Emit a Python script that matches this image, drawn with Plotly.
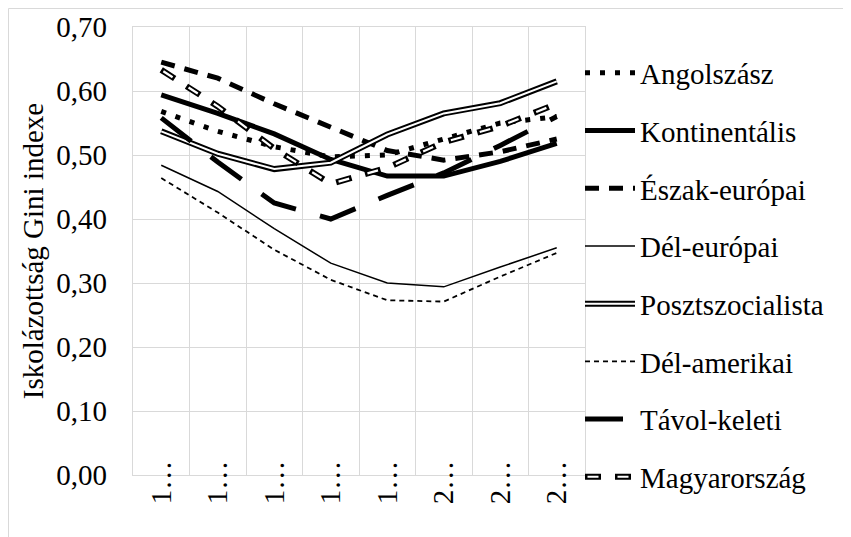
import plotly.graph_objects as go

# ---- data ----
x_pos = [0, 1, 2, 3, 4, 5, 6, 7]
x_labels = ["1…", "1…", "1…", "1…", "1…", "2…", "2…", "2…"]
y_ticks = [0.0, 0.1, 0.2, 0.3, 0.4, 0.5, 0.6, 0.7]

series_names = ["Angolszász", "Kontinentális", "Észak-európai", "Dél-európai",
                "Posztszocialista", "Dél-amerikai", "Távol-keleti", "Magyarország"]
angolszasz = [0.568, 0.537, 0.513, 0.497, 0.500, 0.525, 0.550, 0.560]
kontinentalis = [0.594, 0.565, 0.533, 0.493, 0.467, 0.467, 0.490, 0.518]
eszak_europai = [0.645, 0.620, 0.580, 0.543, 0.507, 0.492, 0.505, 0.525]
del_europai = [0.484, 0.443, 0.385, 0.331, 0.300, 0.294, 0.325, 0.355]
posztszocialista = [0.537, 0.502, 0.478, 0.488, 0.532, 0.565, 0.581, 0.615]
del_amerikai = [0.464, 0.410, 0.352, 0.305, 0.273, 0.271, 0.310, 0.347]
tavol_keleti = [0.558, 0.489, 0.425, 0.400, 0.437, 0.472, 0.515, 0.560]
magyarorszag = [0.633, 0.576, 0.510, 0.455, 0.480, 0.520, 0.545, 0.580]

values = [angolszasz, kontinentalis, eszak_europai, del_europai,
          posztszocialista, del_amerikai, tavol_keleti, magyarorszag]

# ---- styles ----
FONT = "Liberation Serif"
FS = 29
GRID = "#d9d9d9"
outer = [
    dict(color="black", width=5, dash="5px,10px"),
    dict(color="black", width=5, dash="solid"),
    dict(color="black", width=5, dash="14px,10px"),
    dict(color="black", width=1.5, dash="solid"),
    dict(color="black", width=6, dash="solid"),
    dict(color="black", width=1.8, dash="5px,4px"),
    dict(color="black", width=5, dash="38px,25px"),
    dict(color="black", width=6, dash="16px,14px"),
]
inner = [None, None, None, None,
         dict(color="white", width=2, dash="solid"),
         None, None,
         dict(color="white", width=2.2, dash="0px,2.5px,11px,16.5px")]

fig = go.Figure()
for i, (name, vals) in enumerate(zip(series_names, values)):
    fig.add_trace(go.Scatter(
        x=x_pos, y=vals, name=name, mode="lines", line=outer[i],
        legend="legend", legendgroup="a%d" % i))
    ln = inner[i] if inner[i] is not None else dict(color="rgba(0,0,0,0)", width=1)
    fig.add_trace(go.Scatter(
        x=x_pos, y=vals, name=name, mode="lines", line=ln,
        legend="legend2", legendgroup="b%d" % i, hoverinfo="skip"))

# page layout (the page body has an 8px margin)
OFF = 8
W, H = 851 - OFF, 537 - OFF
L, R, T, B = 133 - OFF, 585 - OFF, 27 - OFF, 475 - OFF
pw, ph = R - L, B - T

def px_x(p):  # page x -> paper x
    return (p - OFF - L) / pw

def px_y(p):  # page y -> paper y
    return (B - (p - OFF)) / ph

leg_common = dict(
    x=px_x(580), y=px_y(47.5), xanchor="left", yanchor="top",
    bgcolor="rgba(0,0,0,0)", borderwidth=0, itemwidth=50,
    tracegroupgap=17, traceorder="grouped", itemclick=False, itemdoubleclick=False,
)

fig.update_layout(
    width=W, height=H,
    margin=dict(l=L, r=W - R, t=T, b=H - B, autoexpand=False),
    paper_bgcolor="white", plot_bgcolor="white",
    font=dict(family=FONT, size=FS, color="black"),
    separators=", ",
    showlegend=True,
    legend=dict(**leg_common, font=dict(family=FONT, size=FS, color="black")),
    legend2=dict(**leg_common, font=dict(family=FONT, size=FS, color="rgba(0,0,0,0)")),
    shapes=[dict(type="rect", xref="paper", yref="paper",
                 x0=px_x(8.5), x1=px_x(847), y0=px_y(560), y1=px_y(8.5),
                 line=dict(color=GRID, width=1), layer="below")],
)
try:
    fig.update_layout(legend_maxheight=900, legend2_maxheight=900)
except Exception:
    pass

fig.update_xaxes(
    range=[-0.5, 7.5], tickmode="array", tickvals=x_pos, ticktext=x_labels,
    tickangle=-90, showgrid=False, zeroline=False,
    showline=True, linecolor=GRID, linewidth=1.3, mirror=True,
    ticks="", tickfont=dict(family=FONT, size=FS, color="black"),
    minor=dict(tickmode="array", tickvals=[k - 0.5 for k in range(9)],
               showgrid=True, gridcolor=GRID, gridwidth=1.3, ticks=""),
    automargin=False,
)
fig.update_yaxes(
    range=[0, 0.7], tickmode="array", tickvals=y_ticks, tickformat=".2f",
    showgrid=True, gridcolor=GRID, gridwidth=1.3, zeroline=False,
    showline=True, linecolor=GRID, linewidth=1.3, mirror=True,
    ticks="", tickfont=dict(family=FONT, size=FS, color="black"),
    title=dict(text="Iskolázottság Gini indexe", font=dict(family=FONT, size=FS, color="black"),
               standoff=4),
    automargin=False,
)
try:
    fig.update_xaxes(ticklabelstandoff=-27)
except Exception:
    fig.update_xaxes(ticklabelstandoff=0)
try:
    fig.update_yaxes(ticklabelstandoff=19)
except Exception:
    pass

fig.write_html("out.html")
